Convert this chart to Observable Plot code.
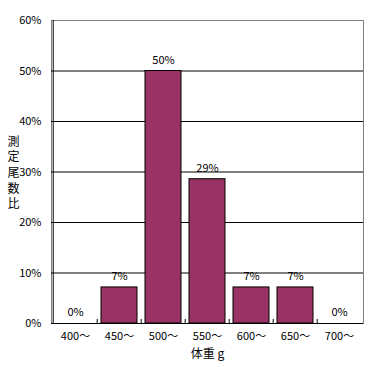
<!DOCTYPE html>
<html>
<head>
<meta charset="utf-8">
<script src="https://cdn.jsdelivr.net/npm/d3@7"></script>
<script src="https://cdn.jsdelivr.net/npm/@observablehq/plot@0.6"></script>
<style>
  html, body { margin: 0; padding: 0; background: #fff; }
  #chart svg { display: block; }
</style>
</head>
<body>
<div id="chart"></div>
<script>
const categories = ["400〜", "450〜", "500〜", "550〜", "600〜", "650〜", "700〜"];
const percents = [0, 7.14, 50, 28.57, 7.14, 7.14, 0];
const barLabels = ["0%", "7%", "50%", "29%", "7%", "7%", "0%"];
const yTicks = [0, 10, 20, 30, 40, 50, 60];
const yTitle = "測\n定\n尾\n数\n比";
const xTitle = "体重 g";

const data = categories.map((c, i) => ({cat: c, v: percents[i], label: barLabels[i]}));

const W = 371, H = 367;
const mL = 51, mR = 8, mT = 20, mB = 44;
const step = (W - mL - mR) / categories.length;
const font = "'Noto Sans CJK JP', 'Noto Sans', sans-serif";

const chart = Plot.plot({
  width: W,
  height: H,
  marginLeft: mL,
  marginRight: mR,
  marginTop: mT,
  marginBottom: mB,
  style: {fontFamily: font, fontSize: "11px", color: "#000", background: "#fff"},
  x: {type: "band", domain: categories, paddingInner: 0.19, paddingOuter: 0.095, axis: null},
  y: {domain: [0, 60], axis: null},
  marks: [
    Plot.frame({stroke: "#808080"}),
    Plot.ruleY(yTicks.filter(t => t > 0 && t < 60), {stroke: "#000"}),
    Plot.barY(data, {x: "cat", y: "v", fill: "#993366", stroke: "#000", strokeWidth: 1}),
    Plot.ruleY([0], {stroke: "#000"}),
    Plot.ruleX([categories[0]], {dx: -step / 2, y1: 0, y2: 60, stroke: "#000"}),
    Plot.ruleX(categories.slice(1), {dx: -step / 2, y1: 0, y2: 0.8, stroke: "#000"}),
    Plot.text(data, {x: "cat", y: "v", text: "label", dy: -11, fontSize: 11, fill: "#000"}),
    Plot.axisY({ticks: yTicks, tickFormat: d => d + "%", tickSize: 0, tickPadding: 10, fontSize: 11, label: null}),
    Plot.axisX({tickSize: 0, tickPadding: 9, fontSize: 11, label: null}),
    Plot.text([xTitle], {frameAnchor: "bottom", dy: 34, fontSize: 12, textAnchor: "middle", fill: "#000"}),
    Plot.text([yTitle], {frameAnchor: "left", dx: -38, fontSize: 12, lineHeight: 1.3, textAnchor: "middle", fill: "#000"})
  ]
});
document.getElementById("chart").appendChild(chart);
</script>
</body>
</html>
